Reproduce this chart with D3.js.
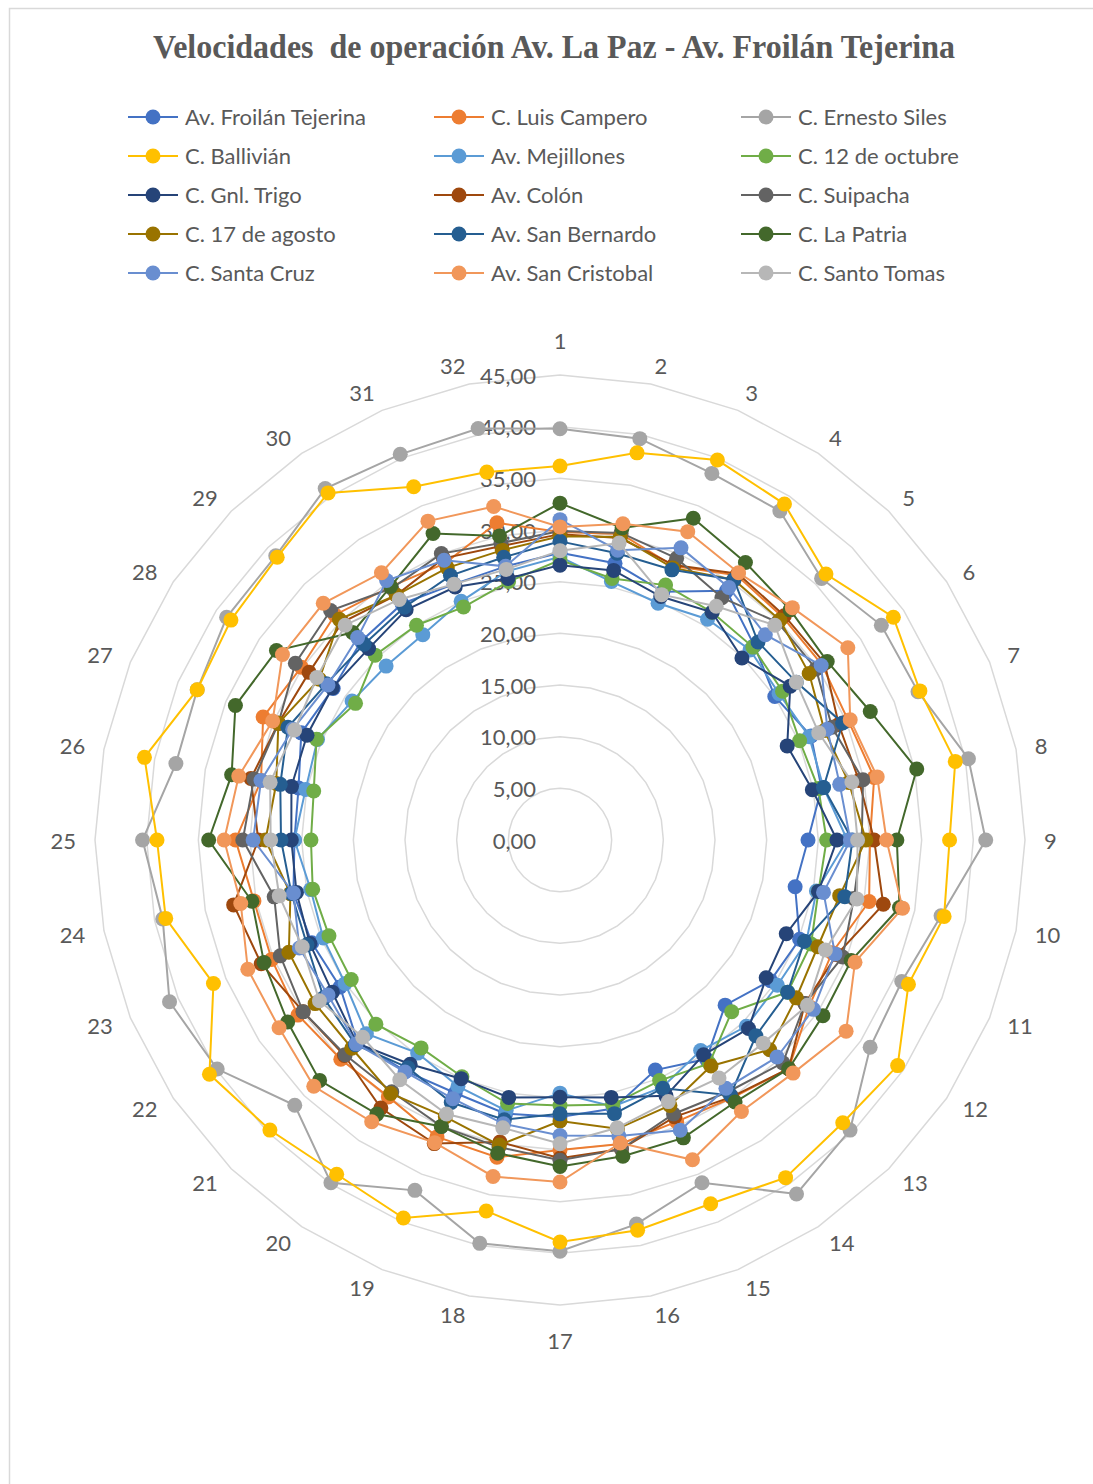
<!DOCTYPE html>
<html>
<head>
<meta charset="utf-8">
<script src="https://cdn.jsdelivr.net/npm/d3@7"></script>
<style>
  body { margin: 0; background: #fff; }
  svg { display: block; }
</style>
</head>
<body>
<svg id="chart" width="1093" height="1484"></svg>
<script>
// Measurement points along Av. La Paz (1..32)
const categories = d3.range(1, 33).map(String);

// Radial axis ticks (km/h)
const tickValues = [0, 5, 10, 15, 20, 25, 30, 35, 40, 45];

const seriesNames = [
  "Av. Froilán Tejerina", "C. Luis Campero", "C. Ernesto Siles",
  "C. Ballivián", "Av. Mejillones", "C. 12 de octubre",
  "C. Gnl. Trigo", "Av. Colón", "C. Suipacha",
  "C. 17 de agosto", "Av. San Bernardo", "C. La Patria",
  "C. Santa Cruz", "Av. San Cristobal", "C. Santo Tomas"
];

// Operating speeds per cross street, one value per measurement point
const froilanTejerina = [27.8,27.3,26.0,29.0,26.6,25.0,26.3,25.8,24.0,23.2,25.1,24.5,22.6,25.5,24.1,26.5,26.8,27.0,26.5,26.9,27.7,25.6,26.0,26.3,25.7,25.8,27.1,26.4,27.2,27.5,26.8,27.0];
const luisCampero     = [29.8,30.2,28.7,30.8,30.5,30.5,30.2,31.0,30.0,30.5,28.5,29.0,31.3,30.0,29.5,30.0,30.0,31.3,31.1,29.9,30.0,30.5,30.2,30.2,31.4,29.5,31.1,30.1,30.8,29.5,29.0,31.3];
const ernestoSiles    = [39.8,39.6,38.4,38.3,35.8,37.4,37.5,40.3,41.2,37.6,35.8,36.1,39.7,41.2,35.9,37.9,39.8,39.8,36.7,39.9,36.3,39.9,40.9,39.2,40.4,37.9,38.0,38.8,38.9,40.9,40.4,40.6];
const ballivian       = [36.2,38.2,39.8,39.1,36.4,38.8,37.7,39.0,37.7,37.9,36.5,39.3,38.7,39.3,38.1,38.5,38.9,36.6,39.6,38.9,39.7,40.8,36.3,38.9,39.0,41.0,38.0,38.3,38.7,40.4,37.0,36.3];
const mejillones      = [27.4,25.5,24.8,25.7,26.0,25.5,26.1,26.0,27.8,25.3,25.8,25.3,25.5,24.5,25.9,26.3,24.5,26.7,25.8,24.8,26.5,25.0,24.8,24.6,25.7,25.1,25.4,24.2,23.8,23.9,25.0,26.5];
const doceOctubre     = [27.1,25.8,26.7,26.5,26.4,25.9,25.1,25.5,25.8,25.5,26.3,26.5,23.5,26.0,25.2,26.1,25.7,26.0,24.8,24.2,25.2,24.3,24.2,24.4,24.1,24.3,25.5,23.8,25.3,25.0,24.4,25.5];
const gnlTrigo        = [26.6,26.6,25.5,26.5,24.9,26.8,23.8,24.9,26.8,25.5,23.7,24.0,25.8,25.0,26.8,25.4,24.9,25.4,25.0,26.1,27.8,26.5,26.2,26.0,26.0,26.5,26.5,26.5,26.2,26.8,26.5,25.8];
const colon           = [29.6,29.8,28.8,31.0,30.7,30.8,29.2,29.5,30.4,31.9,29.0,28.5,31.3,29.9,29.0,30.5,30.8,29.8,31.8,31.2,29.5,29.9,31.3,32.2,29.2,30.5,29.5,29.2,29.8,28.5,29.5,29.0];
const suipacha        = [29.9,30.3,29.5,28.2,29.8,29.8,28.5,29.9,29.2,29.0,29.6,28.5,30.5,29.3,28.7,30.5,31.0,30.3,30.0,29.3,29.4,29.9,29.3,28.2,30.7,30.2,29.5,30.8,31.4,29.3,30.0,29.3];
const diecisieteAgosto= [29.4,29.9,28.5,30.3,30.1,29.0,27.7,28.5,29.6,27.6,27.0,27.5,28.7,26.3,27.8,28.5,27.2,30.1,29.0,29.5,28.5,28.5,28.4,26.6,28.5,28.0,29.5,28.0,30.2,28.5,28.5,28.6];
const sanBernardo     = [28.9,28.3,28.3,30.3,27.1,27.5,29.6,26.0,28.3,28.1,25.6,26.5,26.8,29.7,26.0,27.0,26.5,27.6,27.5,26.5,28.0,27.5,26.5,26.5,27.0,27.6,28.5,27.2,26.8,27.1,27.7,27.9];
const laPatria        = [32.6,30.8,33.7,32.3,31.5,31.1,32.5,35.2,32.6,33.5,30.5,30.6,31.3,30.5,31.2,31.2,31.6,30.9,30.0,31.9,32.9,31.7,31.0,30.4,34.0,32.4,34.0,33.0,28.4,29.5,32.1,30.0];
const santaCruz       = [31.0,28.6,30.6,29.4,28.1,30.4,28.0,27.6,28.1,26.0,28.8,29.5,29.7,28.9,30.4,29.2,28.6,28.0,27.1,27.0,27.9,27.0,27.3,26.3,29.7,29.5,28.0,27.0,27.7,30.2,29.3,27.0];
const sanCristobal    = [30.3,31.2,32.3,31.1,31.8,33.5,30.4,31.3,31.6,33.8,30.9,33.3,31.9,31.6,33.5,29.9,33.1,33.2,31.7,32.8,33.7,32.7,32.7,31.5,32.5,31.7,30.1,32.3,32.4,31.1,33.4,32.9];
const santoTomas      = [28.0,29.3,25.7,27.2,29.4,27.5,27.1,28.8,28.8,29.3,27.8,28.8,27.8,27.7,27.4,28.4,29.4,28.4,28.7,27.9,27.0,28.0,27.0,27.7,28.0,28.6,27.8,28.3,29.4,28.0,26.8,26.7];

const seriesValues = [
  froilanTejerina, luisCampero, ernestoSiles, ballivian, mejillones,
  doceOctubre, gnlTrigo, colon, suipacha, diecisieteAgosto,
  sanBernardo, laPatria, santaCruz, sanCristobal, santoTomas
];

const series = seriesNames.map((name, i) => ({
  name,
  values: categories.map((c, j) => ({ cat: c, value: seriesValues[i][j] }))
}));

// ---- layout ----
const svg = d3.select("#chart");
const cx = 560, cy = 840, R = 465;
const textColor = "#595959";
const gridColor = "#d9d9d9";
const sans = "Lato, 'Open Sans', sans-serif";

const color = d3.scaleOrdinal()
  .domain(seriesNames)
  .range(["#4472C4","#ED7D31","#A5A5A5","#FFC000","#5B9BD5","#70AD47",
          "#264478","#9E480E","#636363","#997300","#255E91","#43682B",
          "#698ED0","#F1975A","#B7B7B7"]);

const angle = d3.scaleBand().domain(categories).range([0, 2 * Math.PI]).padding(0).align(0);
const r = d3.scaleLinear().domain([0, 45]).range([0, R]);

const locale = d3.formatLocale({ decimal: ",", thousands: ".", grouping: [3], currency: ["", ""] });
const fmt = locale.format(".2f");

// chart frame
svg.append("rect")
  .attr("x", 9.5).attr("y", 8.5)
  .attr("width", 1200).attr("height", 1600)
  .attr("fill", "#fff")
  .attr("stroke", "#d9d9d9").attr("stroke-width", 1.5);

// title
svg.append("text")
  .attr("x", 554).attr("y", 58)
  .attr("text-anchor", "middle")
  .attr("font-family", "'Liberation Serif', 'Times New Roman', serif")
  .attr("font-weight", "bold")
  .attr("font-size", 33)
  .attr("fill", textColor)
  .attr("textLength", 802)
  .attr("lengthAdjust", "spacingAndGlyphs")
  .style("white-space", "pre")
  .text("Velocidades  de operación Av. La Paz - Av. Froilán Tejerina");

// legend
const legend = svg.append("g").attr("font-family", sans).attr("font-size", 22);
const colX = [153, 459, 766];
const rowY0 = 117, rowStep = 39;
seriesNames.forEach((name, i) => {
  const gx = colX[i % 3], gy = rowY0 + Math.floor(i / 3) * rowStep;
  const g = legend.append("g").attr("transform", `translate(${gx},${gy})`);
  g.append("line").attr("x1", -25).attr("x2", 25).attr("y1", 0).attr("y2", 0)
    .attr("stroke", color(name)).attr("stroke-width", 2);
  g.append("circle").attr("r", 7.5).attr("fill", color(name));
  g.append("text").attr("x", 32).attr("y", 8).attr("fill", textColor).text(name);
});

const plot = svg.append("g").attr("transform", `translate(${cx},${cy})`);

// gridline rings (polygons)
const ringLine = d3.lineRadial()
  .angle(d => angle(d))
  .curve(d3.curveLinearClosed);
tickValues.filter(v => v > 0).forEach(v => {
  plot.append("path")
    .attr("d", ringLine.radius(() => r(v))(categories))
    .attr("fill", "none")
    .attr("stroke", gridColor)
    .attr("stroke-width", 1.5);
});

// category labels: anchored at a point just outside the outer ring,
// extending away from the vertical axis
const labelDist = R + 19;
plot.append("g").attr("font-family", sans).attr("font-size", 22)
  .attr("fill", textColor)
  .selectAll("text").data(categories).join("text")
  .attr("dominant-baseline", "central")
  .each(function (d) {
    const a = angle(d);
    const s = Math.sin(a), c = Math.cos(a);
    const sel = d3.select(this);
    if (Math.abs(s) < 1e-6) {
      const dist = R + 35;
      sel.attr("x", 0).attr("y", -c * dist).attr("text-anchor", "middle");
    } else {
      sel.attr("x", s * labelDist).attr("y", -c * labelDist)
        .attr("text-anchor", s > 0 ? "start" : "end");
    }
  })
  .text(d => d);

// radial value labels
plot.append("g").attr("font-family", sans).attr("font-size", 22)
  .attr("fill", textColor)
  .selectAll("text").data(tickValues).join("text")
  .attr("x", -24)
  .attr("y", d => -r(d))
  .attr("text-anchor", "end")
  .attr("dominant-baseline", "central")
  .text(d => fmt(d));

// series
const seriesLine = d3.lineRadial()
  .angle(d => angle(d.cat))
  .radius(d => r(d.value))
  .curve(d3.curveLinearClosed);

const sg = plot.selectAll("g.series").data(series).join("g").attr("class", "series");
sg.append("path")
  .attr("d", d => seriesLine(d.values))
  .attr("fill", "none")
  .attr("stroke", d => color(d.name))
  .attr("stroke-width", 2);
sg.selectAll("circle").data(d => d.values.map(v => ({ ...v, name: d.name }))).join("circle")
  .attr("cx", d => Math.sin(angle(d.cat)) * r(d.value))
  .attr("cy", d => -Math.cos(angle(d.cat)) * r(d.value))
  .attr("r", 7.5)
  .attr("fill", d => color(d.name));
</script>
</body>
</html>
